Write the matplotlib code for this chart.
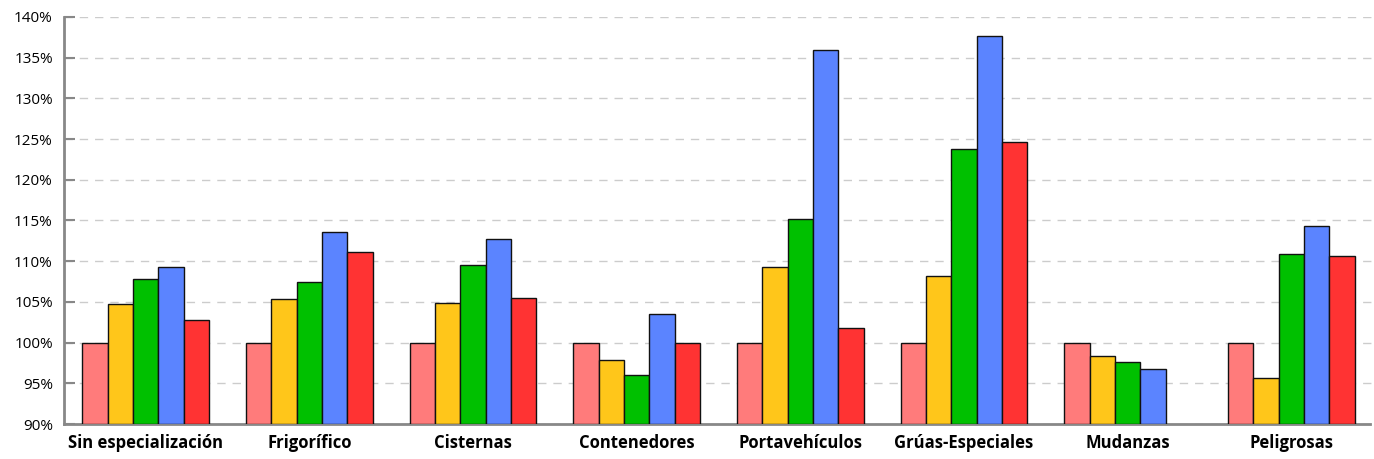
import matplotlib
matplotlib.use("Agg")
import matplotlib.pyplot as plt
import numpy as np
from matplotlib.ticker import FuncFormatter

categories = ["Sin especialización", "Frigorífico", "Cisternas", "Contenedores",
              "Portavehículos", "Grúas-Especiales", "Mudanzas", "Peligrosas"]
s1 = [100, 100, 100, 100, 100, 100, 100, 100]
s2 = [104.7, 105.4, 104.9, 97.9, 109.3, 108.2, 98.3, 95.6]
s3 = [107.8, 107.4, 109.5, 96.0, 115.2, 123.8, 97.6, 110.9]
s4 = [109.3, 113.6, 112.7, 103.5, 135.9, 137.7, 96.8, 114.3]
s5 = [102.8, 111.1, 105.5, 99.9, 101.8, 124.7, np.nan, 110.6]
series = [s1, s2, s3, s4, s5]
colors = ["#FF7B7B", "#FFC61A", "#00C000", "#5B84FF", "#FF3333"]
yticks = list(range(90, 141, 5))

plt.rcParams['font.family'] = ['Open Sans', 'DejaVu Sans']
fig = plt.figure(figsize=(13.74, 4.59), dpi=100)
ax = fig.add_axes([64/1374, 1-424/459, (1373-64)/1374, (424-17)/459])

n = len(series)
x = np.arange(len(categories))
bw = 0.775 / n
for i, (vals, c) in enumerate(zip(series, colors)):
    v = np.array(vals, dtype=float)
    ax.bar(x + (i - (n-1)/2)*bw, v - 90, bottom=90, width=bw, color=c,
           edgecolor="#111111", linewidth=1.0, zorder=3)

ax.set_xlim(-0.5, len(categories)-0.5)
ax.set_ylim(90, 140)
ax.set_yticks(yticks)
ax.yaxis.set_major_formatter(FuncFormatter(lambda v, p: f"{int(v)}%"))
ax.set_xticks(x)
ax.set_xticklabels(categories, fontweight="bold", fontsize=12)
ax.tick_params(axis='x', length=0, pad=7)
ax.tick_params(axis='y', direction='in', length=8, width=1.5, color="#888888", labelsize=11, pad=8)
ax.grid(axis='y', linestyle=(0, (6, 5)), color="#CCCCCC", linewidth=1, zorder=0)
for s in ["top", "right"]:
    ax.spines[s].set_visible(False)
for s in ["left", "bottom"]:
    ax.spines[s].set_color("#888888")
    ax.spines[s].set_linewidth(2)
ax.spines["bottom"].set_bounds(-0.5, len(categories)-0.52)

fig.savefig("out.png", dpi=100)
